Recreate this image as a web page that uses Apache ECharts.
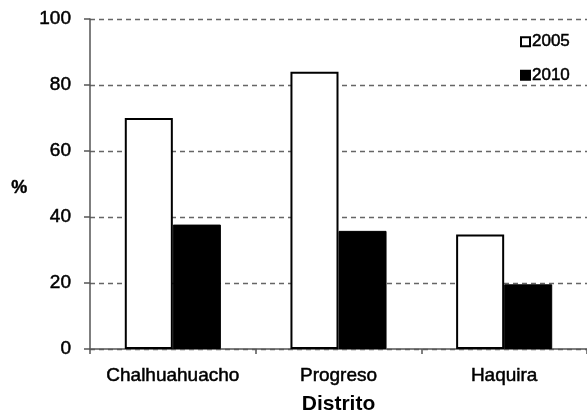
<!DOCTYPE html>
<html>
<head>
<meta charset="utf-8">
<script src="https://cdn.jsdelivr.net/npm/echarts@6/dist/echarts.min.js"></script>
<style>html,body{margin:0;padding:0;background:#fff;}#c{width:587px;height:413px;}</style>
</head>
<body>
<div id="c"></div>
<script>
const categories = ['Chalhuahuacho', 'Progreso', 'Haquira'];
const values2005 = [70, 84, 34.7];
const values2010 = [37.7, 35.8, 19.6];
const yTicks = [0, 20, 40, 60, 80, 100];

const chart = echarts.init(document.getElementById('c'), null, {renderer: 'canvas'});
const font = 'Liberation Sans, Arial, sans-serif';
const heavy = {textBorderColor: '#000', textBorderWidth: 0.5};
chart.setOption({
  animation: false,
  backgroundColor: '#fff',
  grid: {left: 90, right: 0, top: 19, bottom: 64, containLabel: false, outerBoundsMode: 'none'},
  legend: {
    orient: 'vertical', left: 515, top: 28, itemWidth: 9, itemHeight: 9, itemGap: 16,
    icon: 'rect',
    textStyle: Object.assign({fontFamily: font, fontSize: 17, color: '#000', padding: [0,0,0,-3]}, heavy),
    data: ['2005', '2010']
  },
  graphic: [{
    type: 'text', left: 11, top: 179,
    style: {text: '%', fontFamily: font, fontSize: 18, fontWeight: 'bold', fill: '#000',
            stroke: '#000', lineWidth: 0.4}
  }],
  xAxis: {
    type: 'category', data: categories,
    name: 'Distrito', nameLocation: 'middle', nameGap: 45,
    nameTextStyle: {fontFamily: font, fontSize: 21, fontWeight: 'bold', color: '#000'},
    axisLine: {lineStyle: {color: '#555', width: 1.5}},
    axisTick: {show: true, length: 5, lineStyle: {color: '#555', width: 1.5}},
    axisLabel: Object.assign({fontFamily: font, fontSize: 19, color: '#000', margin: 17, interval: 0}, heavy)
  },
  yAxis: {
    type: 'value', min: yTicks[0], max: yTicks[yTicks.length - 1], interval: 20,
    axisLine: {show: true, lineStyle: {color: '#555', width: 1.5}},
    axisTick: {show: true, length: 6, lineStyle: {color: '#555', width: 1.5}},
    axisLabel: Object.assign({fontFamily: font, fontSize: 19, color: '#000', margin: 19}, heavy),
    splitLine: {show: true, lineStyle: {color: '#666', width: 1.3, type: [5, 4]}}
  },
  series: [
    {name: '2005', type: 'bar', data: values2005, barGap: '0%', barCategoryGap: '42%',
     itemStyle: {color: '#fff', borderColor: '#000', borderWidth: 2}},
    {name: '2010', type: 'bar', data: values2010,
     itemStyle: {color: '#000', borderColor: '#000', borderWidth: 1}}
  ]
});
</script>
</body>
</html>
